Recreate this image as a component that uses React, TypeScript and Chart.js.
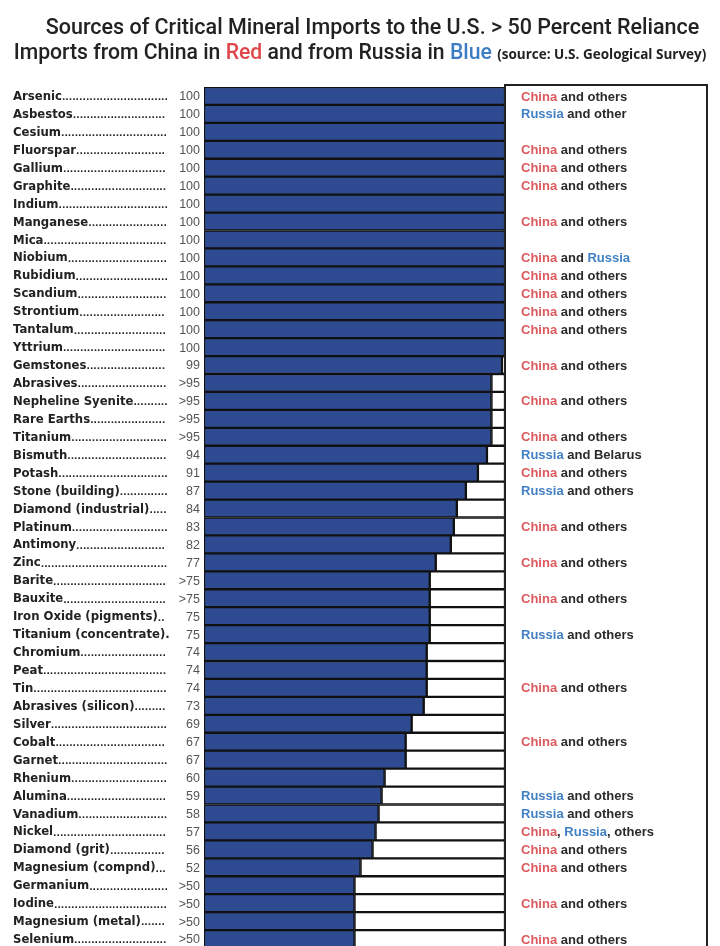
import React, { useEffect, useRef } from "react";
import { Chart, registerables } from "chart.js";

Chart.register(...registerables);

const minerals = [
  "Arsenic", "Asbestos", "Cesium", "Fluorspar", "Gallium", "Graphite", "Indium", "Manganese",
  "Mica", "Niobium", "Rubidium", "Scandium", "Strontium", "Tantalum", "Yttrium", "Gemstones",
  "Abrasives", "Nepheline Syenite", "Rare Earths", "Titanium", "Bismuth", "Potash",
  "Stone (building)", "Diamond (industrial)", "Platinum", "Antimony", "Zinc", "Barite",
  "Bauxite", "Iron Oxide (pigments)", "Titanium (concentrate).", "Chromium", "Peat", "Tin",
  "Abrasives (silicon)", "Silver", "Cobalt", "Garnet", "Rhenium", "Alumina", "Vanadium",
  "Nickel", "Diamond (grit)", "Magnesium (compnd)", "Germanium", "Iodine",
  "Magnesium (metal)", "Selenium",
];

const reliance = [
  100, 100, 100, 100, 100, 100, 100, 100, 100, 100, 100, 100, 100, 100, 100,
  99, 95.5, 95.5, 95.5, 95.5, 94, 91, 87, 84, 83, 82, 77, 75, 75, 75, 75,
  74, 74, 74, 73, 69, 67, 67, 60, 59, 58, 57, 56, 52, 50, 50, 50, 50,
];

const relianceLabels = [
  "100", "100", "100", "100", "100", "100", "100", "100", "100", "100", "100", "100", "100", "100", "100",
  "99", ">95", ">95", ">95", ">95", "94", "91", "87", "84", "83", "82", "77", ">75", ">75", "75", "75",
  "74", "74", "74", "73", "69", "67", "67", "60", "59", "58", "57", "56", "52", ">50", ">50", ">50", ">50",
];

const sources = [
  "China and others", "Russia and other", "", "China and others", "China and others",
  "China and others", "", "China and others", "", "China and Russia", "China and others",
  "China and others", "China and others", "China and others", "", "China and others", "",
  "China and others", "", "China and others", "Russia and Belarus", "China and others",
  "Russia and others", "", "China and others", "", "China and others", "", "China and others",
  "", "Russia and others", "", "", "China and others", "", "", "China and others", "", "",
  "Russia and others", "Russia and others", "China, Russia, others", "China and others",
  "China and others", "", "China and others", "", "China and others",
];

const RED = "#e0474a";
const BLUE = "#3f7cc6";
const BAR_BLUE = "#2e4b91";
const NOTE_RED = "#dc5a5e";
const NOTE_BLUE = "#4180c4";

const rowLabels = {
  id: "rowLabels",
  afterDatasetsDraw(chart: any) {
    const { ctx, chartArea, scales } = chart;
    const yScale = scales.y;
    ctx.save();
    // annotation box
    ctx.strokeStyle = "#222";
    ctx.lineWidth = 2;
    ctx.strokeRect(chartArea.right, chartArea.top - 2, 707 - chartArea.right, chartArea.bottom - chartArea.top + 30);
    ctx.textBaseline = "middle";
    minerals.forEach((name, i) => {
      const yy = yScale.getPixelForValue(i) + 1;
      // name + dot leaders
      ctx.font = "bold 11.7px 'DejaVu Sans'";
      ctx.fillStyle = "#222";
      ctx.textAlign = "left";
      ctx.fillText(name, 13, yy);
      const w = ctx.measureText(name).width;
      ctx.font = "bold 9px 'DejaVu Sans'";
      const dw = ctx.measureText(".").width;
      let dots = "";
      let x = 13 + w;
      while (x + dw <= 168) {
        dots += ".";
        x += dw;
      }
      ctx.fillText(dots, 13 + w, yy + 1);
      // value
      ctx.font = "12.5px 'Liberation Sans'";
      ctx.fillStyle = "#555";
      ctx.textAlign = "right";
      ctx.fillText(relianceLabels[i], chartArea.left - 4, yy);
      // source note
      const note = sources[i];
      if (note) {
        ctx.font = "bold 13px 'Liberation Sans'";
        ctx.textAlign = "left";
        let nx = chartArea.right + 16;
        note.split(/(China|Russia)/).forEach((part) => {
          if (!part) return;
          ctx.fillStyle = part === "China" ? NOTE_RED : part === "Russia" ? NOTE_BLUE : "#2a2a2a";
          ctx.fillText(part, nx, yy);
          nx += ctx.measureText(part).width;
        });
      }
    });
    ctx.restore();
  },
};

export default function App() {
  const ref = useRef<HTMLCanvasElement | null>(null);

  useEffect(() => {
    document.body.style.margin = "0";
    const canvas = ref.current;
    if (!canvas) return;
    const chart = new Chart(canvas, {
      type: "bar",
      data: {
        labels: minerals,
        datasets: [
          {
            data: reliance,
            backgroundColor: BAR_BLUE,
            borderColor: "#111",
            borderWidth: 1.5,
            borderSkipped: false,
            barPercentage: 1,
            categoryPercentage: 1,
          },
          {
            data: reliance.map((v) => 100 - v),
            backgroundColor: "#ffffff",
            borderColor: "#111",
            borderWidth: 1.5,
            borderSkipped: false,
            barPercentage: 1,
            categoryPercentage: 1,
          },
        ],
      },
      options: {
        indexAxis: "y",
        responsive: false,
        animation: false,
        layout: { padding: { left: 204, right: 215, top: 87, bottom: 2 } },
        plugins: { legend: { display: false }, tooltip: { enabled: false }, title: { display: false } },
        scales: {
          x: { stacked: true, min: 0, max: 100, display: false },
          y: { stacked: true, display: false },
        },
      },
      plugins: [rowLabels],
    });
    return () => chart.destroy();
  }, []);

  return (
    <div style={{ position: "relative", width: 720, height: 946, overflow: "hidden", background: "#fff" }}>
      <canvas ref={ref} width={720} height={950} style={{ position: "absolute", left: 0, top: 0 }} />
      <div
        style={{
          position: "absolute", left: 0, top: 14, width: 745, textAlign: "center",
          font: "500 21.5px Roboto", lineHeight: "26px", color: "#222", whiteSpace: "nowrap",
        }}
      >
        Sources of Critical Mineral Imports to the U.S. &gt; 50 Percent Reliance
      </div>
      <div
        style={{
          position: "absolute", left: 0, top: 39, width: 720, textAlign: "center",
          font: "500 21.2px Roboto", lineHeight: "26px", color: "#222", whiteSpace: "nowrap",
        }}
      >
        Imports from China in <span style={{ color: RED }}>Red</span> and from Russia in{" "}
        <span style={{ color: BLUE }}>Blue</span>{" "}
        <span style={{ font: "bold 13.5px 'Open Sans'" }}>(source: U.S. Geological Survey)</span>
      </div>
    </div>
  );
}
